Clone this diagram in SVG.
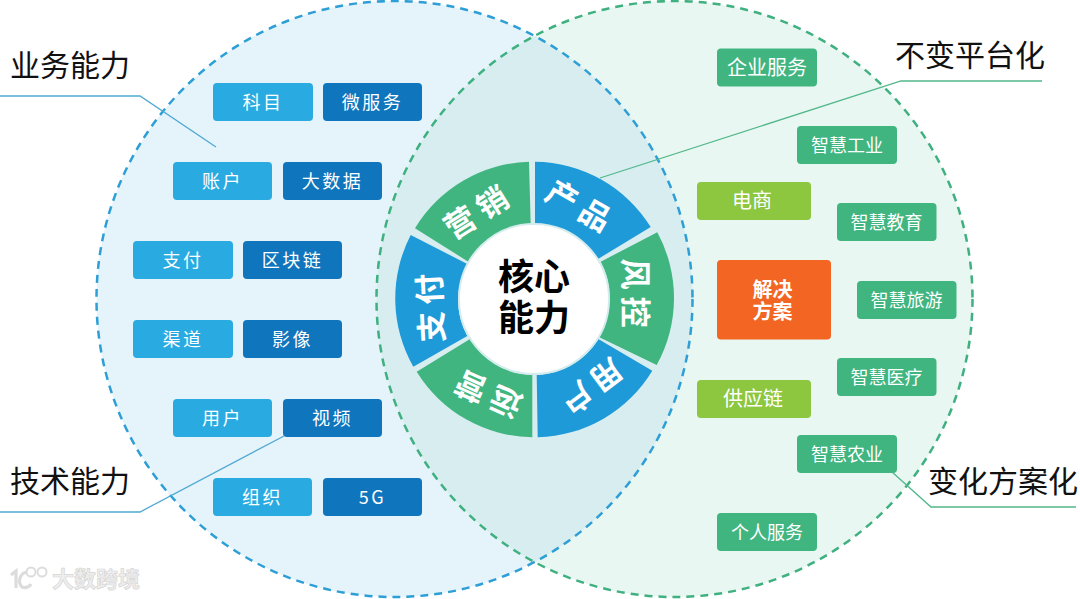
<svg xmlns="http://www.w3.org/2000/svg" width="1080" height="599" viewBox="0 0 1080 599">
<style>
text{font-family:"Noto Sans CJK SC","Noto Sans",sans-serif;text-anchor:middle}
.n{fill:#fff;font-size:18px}
.b{font-size:20px}
.s{letter-spacing:2.5px}
.lb{fill:#29abe2}.db{fill:#0f75bc}.gr{fill:#41b580}.lg{fill:#8dc63f}.or{fill:#f26522}
.lab{font-size:30px;fill:#111;text-anchor:start}
.w{fill:#fff;font-size:31px;font-weight:700}
.c{fill:#000;font-size:36px;font-weight:700}
.seg-b{fill:#1f9ad9}.seg-g{fill:#41b580}
.ln{fill:none;stroke-width:1.3}
</style>
<defs>
<clipPath id="cl"><circle cx="394.500" cy="299" r="298"/></clipPath>
</defs>
<g id="venn">
<circle cx="394.500" cy="299" r="298" fill="#e5f3fa"/>
<circle cx="674.500" cy="299" r="298" fill="#e9f7f2"/>
<circle cx="674.500" cy="299" r="298" fill="#d7edf0" clip-path="url(#cl)"/>
<circle cx="394.500" cy="299" r="298" fill="none" stroke="#2d9fd6" stroke-width="2.500" stroke-dasharray="8 6"/>
<circle cx="674.500" cy="299" r="298" fill="none" stroke="#3fb07f" stroke-width="2.500" stroke-dasharray="8 6"/>
</g>
<g id="connectors">
<path class="ln" stroke="#4fa9d3" d="M0 96H140L216 147"/>
<path class="ln" stroke="#4fa9d3" d="M0 512H140L284 436"/>
<path class="ln" stroke="#52b78b" d="M1042 81H901L600 178"/>
<path class="ln" stroke="#52b78b" d="M1076 507H931L892 472"/>
</g>
<g id="wheel">
<path class="seg-b" d="M535 161.700A138 138 0 0 1 650.700 227L598 259A75 75 0 0 0 535 224Z"/>
<path class="seg-g" d="M657.300 232.300A138 138 0 0 1 656.700 365L598.300 336.700A75 75 0 0 0 600.700 261.700Z"/>
<path class="seg-b" d="M652.300 370.700A138 138 0 0 1 537.700 437.300L536.700 375A75 75 0 0 0 598.300 339Z"/>
<path class="seg-g" d="M532.300 437.300A138 138 0 0 1 416.700 371.700L470 339A75 75 0 0 0 532.300 375Z"/>
<path class="seg-b" d="M413.300 366.700A138 138 0 0 1 410.700 235L467.300 264A75 75 0 0 0 467.300 336Z"/>
<path class="seg-g" d="M415 228.300A138 138 0 0 1 529 161.700L530.700 224A75 75 0 0 0 468.300 261.700Z"/>
<circle cx="534" cy="299" r="75" fill="#fff" stroke="#d5ecee" stroke-width="2"/>
<text class="w" transform="translate(579 205) rotate(30)" x="-19 19" y="12">产品</text>
<text class="w" transform="translate(636 293) rotate(90)" x="-19 19" y="12">风控</text>
<text class="w" transform="translate(592 387) rotate(143)" x="-19 19" y="12">用户</text>
<text class="w" transform="translate(488 395) rotate(204)" x="-19 19" y="12">运营</text>
<text class="w" transform="translate(430 308) rotate(-93)" x="-19 19" y="12">支付</text>
<text class="w" transform="translate(476 212) rotate(-32)" x="-19 19" y="12">营销</text>
<text class="c" x="534" y="290">核心</text>
<text class="c" x="534" y="331">能力</text>
</g>
<g id="n-kemu"><rect class="lb" x="213" y="83" width="100" height="38" rx="4"/><text class="n s" x="263" y="109">科目</text></g>
<g id="n-weifuwu"><rect class="db" x="323" y="83" width="99" height="38" rx="4"/><text class="n s" x="372.500" y="109">微服务</text></g>
<g id="n-zhanghu"><rect class="lb" x="173" y="162" width="99" height="38" rx="4"/><text class="n s" x="222.500" y="188">账户</text></g>
<g id="n-dashuju"><rect class="db" x="283" y="162" width="99" height="38" rx="4"/><text class="n s" x="332.500" y="188">大数据</text></g>
<g id="n-zhifu"><rect class="lb" x="133" y="241" width="100" height="38" rx="4"/><text class="n s" x="183" y="267">支付</text></g>
<g id="n-qukuailian"><rect class="db" x="243" y="241" width="99" height="38" rx="4"/><text class="n s" x="292.500" y="267">区块链</text></g>
<g id="n-qudao"><rect class="lb" x="133" y="320" width="100" height="38" rx="4"/><text class="n s" x="183" y="346">渠道</text></g>
<g id="n-yingxiang"><rect class="db" x="243" y="320" width="99" height="38" rx="4"/><text class="n s" x="292.500" y="346">影像</text></g>
<g id="n-yonghu"><rect class="lb" x="173" y="399" width="99" height="38" rx="4"/><text class="n s" x="222.500" y="425">用户</text></g>
<g id="n-shipin"><rect class="db" x="283" y="399" width="99" height="38" rx="4"/><text class="n s" x="332.500" y="425">视频</text></g>
<g id="n-zuzhi"><rect class="lb" x="213" y="478" width="99" height="38" rx="4"/><text class="n s" x="262.500" y="504">组织</text></g>
<g id="n-5g"><rect class="db" x="323" y="478" width="99" height="38" rx="4"/><text class="n s" x="372.500" y="504">5G</text></g>
<g id="n-qiye"><rect class="gr" x="717" y="48.500" width="100" height="38" rx="4"/><text class="n b" x="767" y="75">企业服务</text></g>
<g id="n-gongye"><rect class="gr" x="797" y="126" width="100" height="38" rx="4"/><text class="n" x="847" y="152">智慧工业</text></g>
<g id="n-dianshang"><rect class="lg" x="697" y="182" width="114" height="38" rx="4"/><text class="n b" x="752" y="208">电商</text></g>
<g id="n-jiaoyu"><rect class="gr" x="837" y="203" width="99.500" height="38" rx="4"/><text class="n" x="886.500" y="229">智慧教育</text></g>
<g id="n-jiejue"><rect class="or" x="717" y="260" width="114" height="79.500" rx="4"/><text x="772.500" y="297" fill="#fff" font-size="20" font-weight="700">解决</text><text x="772.500" y="319" fill="#fff" font-size="20" font-weight="700">方案</text></g>
<g id="n-lvyou"><rect class="gr" x="857" y="281" width="99.500" height="38" rx="4"/><text class="n" x="906.500" y="307">智慧旅游</text></g>
<g id="n-yiliao"><rect class="gr" x="837" y="358" width="99.500" height="38" rx="4"/><text class="n" x="886.500" y="384">智慧医疗</text></g>
<g id="n-gongying"><rect class="lg" x="697" y="380" width="114" height="38" rx="4"/><text class="n b" x="753" y="406">供应链</text></g>
<g id="n-nongye"><rect class="gr" x="797" y="435" width="100" height="38" rx="4"/><text class="n" x="847" y="461">智慧农业</text></g>
<g id="n-geren"><rect class="gr" x="717" y="513" width="100" height="38" rx="4"/><text class="n" x="767" y="539">个人服务</text></g>
<g id="labels">
<text class="lab" x="10" y="76">业务能力</text>
<text class="lab" x="10" y="492">技术能力</text>
<text class="lab" x="895" y="66">不变平台化</text>
<text class="lab" x="928" y="492">变化方案化</text>
</g>
<g id="watermark">
<path d="M11 575L16 571V588M27 572A9 9 0 0 0 22 587Q28 589 31 584" fill="none" stroke="#dcdcdc" stroke-width="3.200"/>
<circle cx="31" cy="572" r="4.500" fill="none" stroke="#dcdcdc" stroke-width="2"/>
<circle cx="42" cy="572" r="4.500" fill="none" stroke="#dcdcdc" stroke-width="2"/>
<text x="96" y="587" font-size="22" font-weight="700" fill="#eeeeee" stroke="#d6d6d6" stroke-width="0.700">大数跨境</text>
</g>
</svg>
